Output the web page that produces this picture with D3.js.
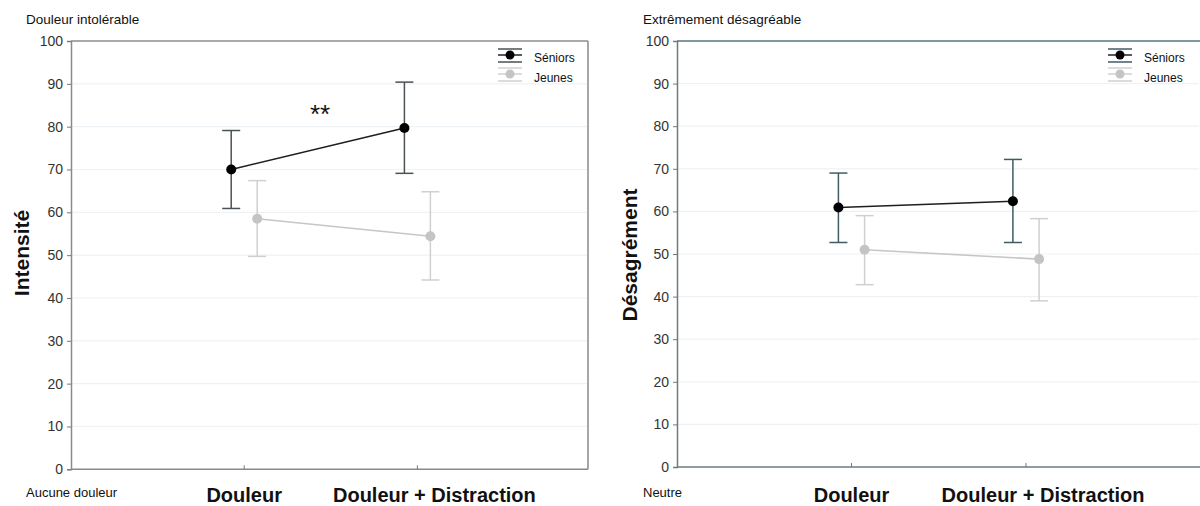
<!DOCTYPE html>
<html><head><meta charset="utf-8">
<script src="https://cdn.jsdelivr.net/npm/d3@7"></script>
<style>
html,body{margin:0;padding:0;background:#fff;}
svg{display:block;font-family:"Liberation Sans",Arial,sans-serif;}
</style></head>
<body>
<svg id="chart" width="1200" height="506"></svg>
<script>
// ---- data ----
const categories = ["Douleur", "Douleur + Distraction"];
const seriesNames = ["Séniors", "Jeunes"];
const yTicks = [0, 10, 20, 30, 40, 50, 60, 70, 80, 90, 100];

const intensiteSeniors     = [70.0, 79.7];
const intensiteSeniorsLow  = [60.9, 69.1];
const intensiteSeniorsHigh = [79.1, 90.4];
const intensiteJeunes      = [58.5, 54.4];
const intensiteJeunesLow   = [49.7, 44.2];
const intensiteJeunesHigh  = [67.4, 64.8];

const desagrSeniors     = [60.9, 62.4];
const desagrSeniorsLow  = [52.7, 52.7];
const desagrSeniorsHigh = [69.0, 72.2];
const desagrJeunes      = [51.0, 48.8];
const desagrJeunesLow   = [42.8, 39.0];
const desagrJeunesHigh  = [59.0, 58.3];

const svg = d3.select("#chart");

function drawPanel(cfg) {
  const g = svg.append("g");
  const x = d3.scaleLinear().domain([0, 3]).range([cfg.left, cfg.left + 3 * cfg.step]);
  const y = d3.scaleLinear().domain([0, 100]).range([cfg.bottom, cfg.top]);

  // gridlines
  g.selectAll(".grid").data(yTicks.filter(t => t > 0 && t < 100)).enter().append("line")
    .attr("x1", cfg.left + 1).attr("x2", cfg.right - 1)
    .attr("y1", d => y(d)).attr("y2", d => y(d))
    .attr("stroke", "#edf2f6").attr("stroke-width", 1.2);

  // frame
  g.append("line").attr("x1", cfg.left).attr("x2", cfg.right).attr("y1", cfg.top).attr("y2", cfg.top)
    .attr("stroke", cfg.topColor).attr("stroke-width", 1.5);
  g.append("line").attr("x1", cfg.left).attr("x2", cfg.right).attr("y1", cfg.bottom).attr("y2", cfg.bottom)
    .attr("stroke", cfg.frameColor).attr("stroke-width", 1.5);
  if (cfg.rightBorder) {
    g.append("line").attr("x1", cfg.right).attr("x2", cfg.right).attr("y1", cfg.top).attr("y2", cfg.bottom)
      .attr("stroke", cfg.frameColor).attr("stroke-width", 1.5);
  }

  // y axis
  const yAxis = d3.axisLeft(y).tickValues(yTicks).tickSize(4).tickPadding(4);
  const ya = g.append("g").attr("transform", `translate(${cfg.left},0)`).call(yAxis);
  ya.select(".domain").attr("stroke", cfg.frameColor).attr("stroke-width", 1.5);
  ya.selectAll(".tick line").attr("stroke", "#777");
  ya.selectAll(".tick text").attr("font-size", 14).attr("fill", "#333")
    .attr("font-family", "Liberation Sans, Arial, sans-serif");

  // x ticks (inside marks)
  g.selectAll(".xt").data(categories).enter().append("line")
    .attr("x1", (d, i) => x(i + 1)).attr("x2", (d, i) => x(i + 1))
    .attr("y1", cfg.bottom).attr("y2", cfg.bottom - 4)
    .attr("stroke", "#777").attr("stroke-width", 1);

  // category labels
  g.selectAll(".xl").data(categories).enter().append("text")
    .attr("x", (d, i) => x(i + 1) + (i === 1 ? 17 : 0)).attr("y", 502)
    .attr("text-anchor", "middle").attr("font-size", 20).attr("font-weight", "bold").attr("fill", "#111")
    .text(d => d);

  // y title
  g.append("text")
    .attr("transform", `translate(${cfg.titleX},${cfg.titleY}) rotate(-90)`)
    .attr("text-anchor", "middle").attr("font-size", 21).attr("font-weight", "bold").attr("fill", "#111")
    .text(cfg.title);

  // top/bottom anchors
  g.append("text").attr("x", cfg.anchorX).attr("y", 24).attr("font-size", 13.5).attr("fill", "#111").text(cfg.topLabel);
  g.append("text").attr("x", cfg.anchorX).attr("y", 497).attr("font-size", 13).attr("fill", "#111").text(cfg.bottomLabel);

  const series = [
    { name: seriesNames[0], v: cfg.s, lo: cfg.sLo, hi: cfg.sHi, off: -0.075, dot: "#000", line: "#1e1e1e", err: cfg.errColor, r: 5 },
    { name: seriesNames[1], v: cfg.j, lo: cfg.jLo, hi: cfg.jHi, off: 0.075, dot: "#c4c4c4", line: "#c6c6c6", err: "#d0d0d0", r: 5 }
  ];

  // draw Jeunes first, then Séniors on top
  series.slice().reverse().forEach(s => {
    const sg = g.append("g");
    const px = i => x(i + 1 + s.off);
    // error bars
    s.v.forEach((v, i) => {
      sg.append("line").attr("x1", px(i)).attr("x2", px(i)).attr("y1", y(s.lo[i])).attr("y2", y(s.hi[i]))
        .attr("stroke", s.err).attr("stroke-width", 1.5);
      [s.lo[i], s.hi[i]].forEach(e => {
        sg.append("line").attr("x1", px(i) - 9).attr("x2", px(i) + 9).attr("y1", y(e)).attr("y2", y(e))
          .attr("stroke", s.err).attr("stroke-width", 1.5);
      });
    });
    const line = d3.line().x((d, i) => px(i)).y(d => y(d));
    sg.append("path").datum(s.v).attr("d", line).attr("fill", "none").attr("stroke", s.line).attr("stroke-width", 1.6);
    sg.selectAll("circle").data(s.v).enter().append("circle")
      .attr("cx", (d, i) => px(i)).attr("cy", d => y(d)).attr("r", s.r).attr("fill", s.dot);
  });

  // legend
  series.forEach((s, k) => {
    const cy = cfg.legendY[k];
    const lx = cfg.legendX;
    const lg = g.append("g");
    [-6, 0, 7].forEach(dy => {
      lg.append("line").attr("x1", lx - 12).attr("x2", lx + 12).attr("y1", cy + dy).attr("y2", cy + dy)
        .attr("stroke", k === 0 ? (dy === 0 ? "#222" : cfg.errColor) : "#d0d0d0").attr("stroke-width", 1.5);
    });
    lg.append("circle").attr("cx", lx).attr("cy", cy).attr("r", 4.5).attr("fill", s.dot);
    lg.append("text").attr("x", lx + 24).attr("y", cfg.legendTextY[k]).attr("font-size", 12).attr("fill", "#111").text(s.name);
  });
}

drawPanel({
  left: 71, step: 173.2, right: 588, top: 41, bottom: 469.3,
  rightBorder: true, topColor: "#8c8c8c", frameColor: "#8a8a8a", errColor: "#4a5254",
  title: "Intensité", titleX: 29, titleY: 253,
  anchorX: 26, topLabel: "Douleur intolérable", bottomLabel: "Aucune douleur",
  s: intensiteSeniors, sLo: intensiteSeniorsLow, sHi: intensiteSeniorsHigh,
  j: intensiteJeunes, jLo: intensiteJeunesLow, jHi: intensiteJeunesHigh,
  legendX: 510, legendY: [55, 74], legendTextY: [62, 82]
});

drawPanel({
  left: 677, step: 174.5, right: 1200, top: 41, bottom: 467,
  rightBorder: false, topColor: "#55767e", frameColor: "#6d7b80", errColor: "#3f5c64",
  title: "Désagrément", titleX: 637, titleY: 255,
  anchorX: 643, topLabel: "Extrêmement désagréable", bottomLabel: "Neutre",
  s: desagrSeniors, sLo: desagrSeniorsLow, sHi: desagrSeniorsHigh,
  j: desagrJeunes, jLo: desagrJeunesLow, jHi: desagrJeunesHigh,
  legendX: 1120, legendY: [55, 74], legendTextY: [62, 82]
});

// significance marker
svg.append("text").attr("x", 320).attr("y", 123).attr("text-anchor", "middle")
  .attr("font-size", 26).attr("fill", "#111").text("**");
</script>
</body></html>
